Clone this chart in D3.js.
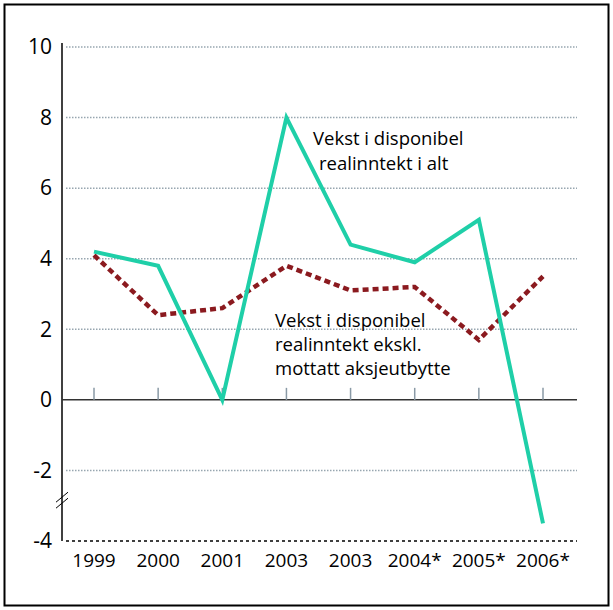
<!DOCTYPE html>
<html>
<head>
<meta charset="utf-8">
<script src="https://cdn.jsdelivr.net/npm/d3@7"></script>
<style>
  body { margin: 0; background: #fff; }
  text { font-family: "Open Sans", sans-serif; fill: #000; }
</style>
</head>
<body>
<div class="chart"></div>
<script>
const WIDTH = 613;
const HEIGHT = 610;

var years = ['1999', '2000', '2001', '2003', '2003', '2004*', '2005*', '2006*'];
var totalGrowth = [4.2, 3.8, 0, 8.0, 4.4, 3.9, 5.1, -3.5];
var exDividend = [4.1, 2.4, 2.6, 3.8, 3.1, 3.2, 1.7, 3.5];
var yTicks = [-4, -2, 0, 2, 4, 6, 8, 10];

var translate = function (x, y) {
  return 'translate(' + x + ',' + y + ')';
};

var idx = d3.range(years.length);

var xScale = d3.scaleLinear()
  .domain([0, years.length - 1])
  .range([94, 543]);

var yScale = d3.scaleLinear()
  .domain([-4, 10])
  .range([541, 47]);

var svg = d3.select('.chart').append('svg')
  .attr('width', WIDTH)
  .attr('height', HEIGHT);

// frame
svg.append('rect')
  .attr('x', 4.5).attr('y', 4.5)
  .attr('width', 604).attr('height', 601)
  .attr('fill', 'none')
  .attr('stroke', '#000')
  .attr('stroke-width', 2);

// grid lines
svg.selectAll('.grid')
  .data(yTicks.filter(function (d) { return d !== 0 && d !== -4; }))
  .enter().append('line')
  .attr('x1', 66).attr('x2', 577)
  .attr('y1', function (d) { return yScale(d); })
  .attr('y2', function (d) { return yScale(d); })
  .attr('stroke', '#97a6b0')
  .attr('stroke-width', 1.5)
  .attr('stroke-dasharray', '1.5,1.5');

// bottom dotted line at -4
svg.append('line')
  .attr('x1', 66).attr('x2', 577)
  .attr('y1', yScale(-4)).attr('y2', yScale(-4))
  .attr('stroke', '#000')
  .attr('stroke-width', 1.5)
  .attr('stroke-dasharray', '3,3');

// y axis
var yAxis = d3.axisLeft(yScale).tickValues(yTicks).tickSize(0).tickPadding(10)
  .tickFormat(function (d) { return String(d); });
var gy = svg.append('g')
  .attr('transform', translate(62, 0))
  .call(yAxis);
gy.select('.domain').attr('d', 'M0,43V' + yScale(-4)).attr('stroke', '#000').attr('stroke-width', 1.5);
gy.selectAll('text').style('font-size', '21px').style('font-family', '"Open Sans", sans-serif').attr('fill', '#000');

// axis break
svg.append('g').selectAll('line')
  .data([0, 6])
  .enter().append('line')
  .attr('x1', 56).attr('x2', 68)
  .attr('y1', function (d) { return yScale(-2.9) + d; })
  .attr('y2', function (d) { return yScale(-2.9) + d - 10; })
  .attr('stroke', '#000').attr('stroke-width', 1);

// zero line with ticks
svg.append('line')
  .attr('x1', 62).attr('x2', 577)
  .attr('y1', yScale(0)).attr('y2', yScale(0))
  .attr('stroke', '#333').attr('stroke-width', 1.5);

svg.selectAll('.xtick')
  .data(idx)
  .enter().append('line')
  .attr('x1', function (d) { return xScale(d); })
  .attr('x2', function (d) { return xScale(d); })
  .attr('y1', yScale(0) - 12).attr('y2', yScale(0))
  .attr('stroke', '#8a9aa6').attr('stroke-width', 1.5);

// x labels
svg.selectAll('.xlabel')
  .data(idx)
  .enter().append('text')
  .attr('x', function (d) { return xScale(d); })
  .attr('y', 567)
  .attr('text-anchor', 'middle')
  .style('font-size', '19px')
  .text(function (d) { return years[d]; });

// lines
var line = d3.line()
  .x(function (d, i) { return xScale(i); })
  .y(function (d) { return yScale(d); });

svg.append('path')
  .attr('d', line(exDividend))
  .attr('fill', 'none')
  .attr('stroke', '#8b1a1f')
  .attr('stroke-width', 4.5)
  .attr('stroke-dasharray', '6,4');

svg.append('path')
  .attr('d', line(totalGrowth))
  .attr('fill', 'none')
  .attr('stroke', '#1fcfa8')
  .attr('stroke-width', 4)
  .attr('stroke-linejoin', 'miter');

// labels
var label1 = ['Vekst i disponibel', 'realinntekt i alt'];
var label2 = ['Vekst i disponibel', 'realinntekt ekskl.', 'mottatt aksjeutbytte'];

svg.append('text')
  .attr('x', 313).attr('y', 145)
  .style('font-size', '18.5px')
  .selectAll('tspan').data(label1).enter().append('tspan')
  .attr('x', function (d, i) { return i === 0 ? 313 : 319; })
  .attr('dy', function (d, i) { return i === 0 ? 0 : 25; })
  .text(function (d) { return d; });

svg.append('text')
  .attr('x', 275).attr('y', 327)
  .style('font-size', '18.5px')
  .selectAll('tspan').data(label2).enter().append('tspan')
  .attr('x', 275)
  .attr('dy', function (d, i) { return i === 0 ? 0 : 24; })
  .text(function (d) { return d; });
</script>
</body>
</html>
